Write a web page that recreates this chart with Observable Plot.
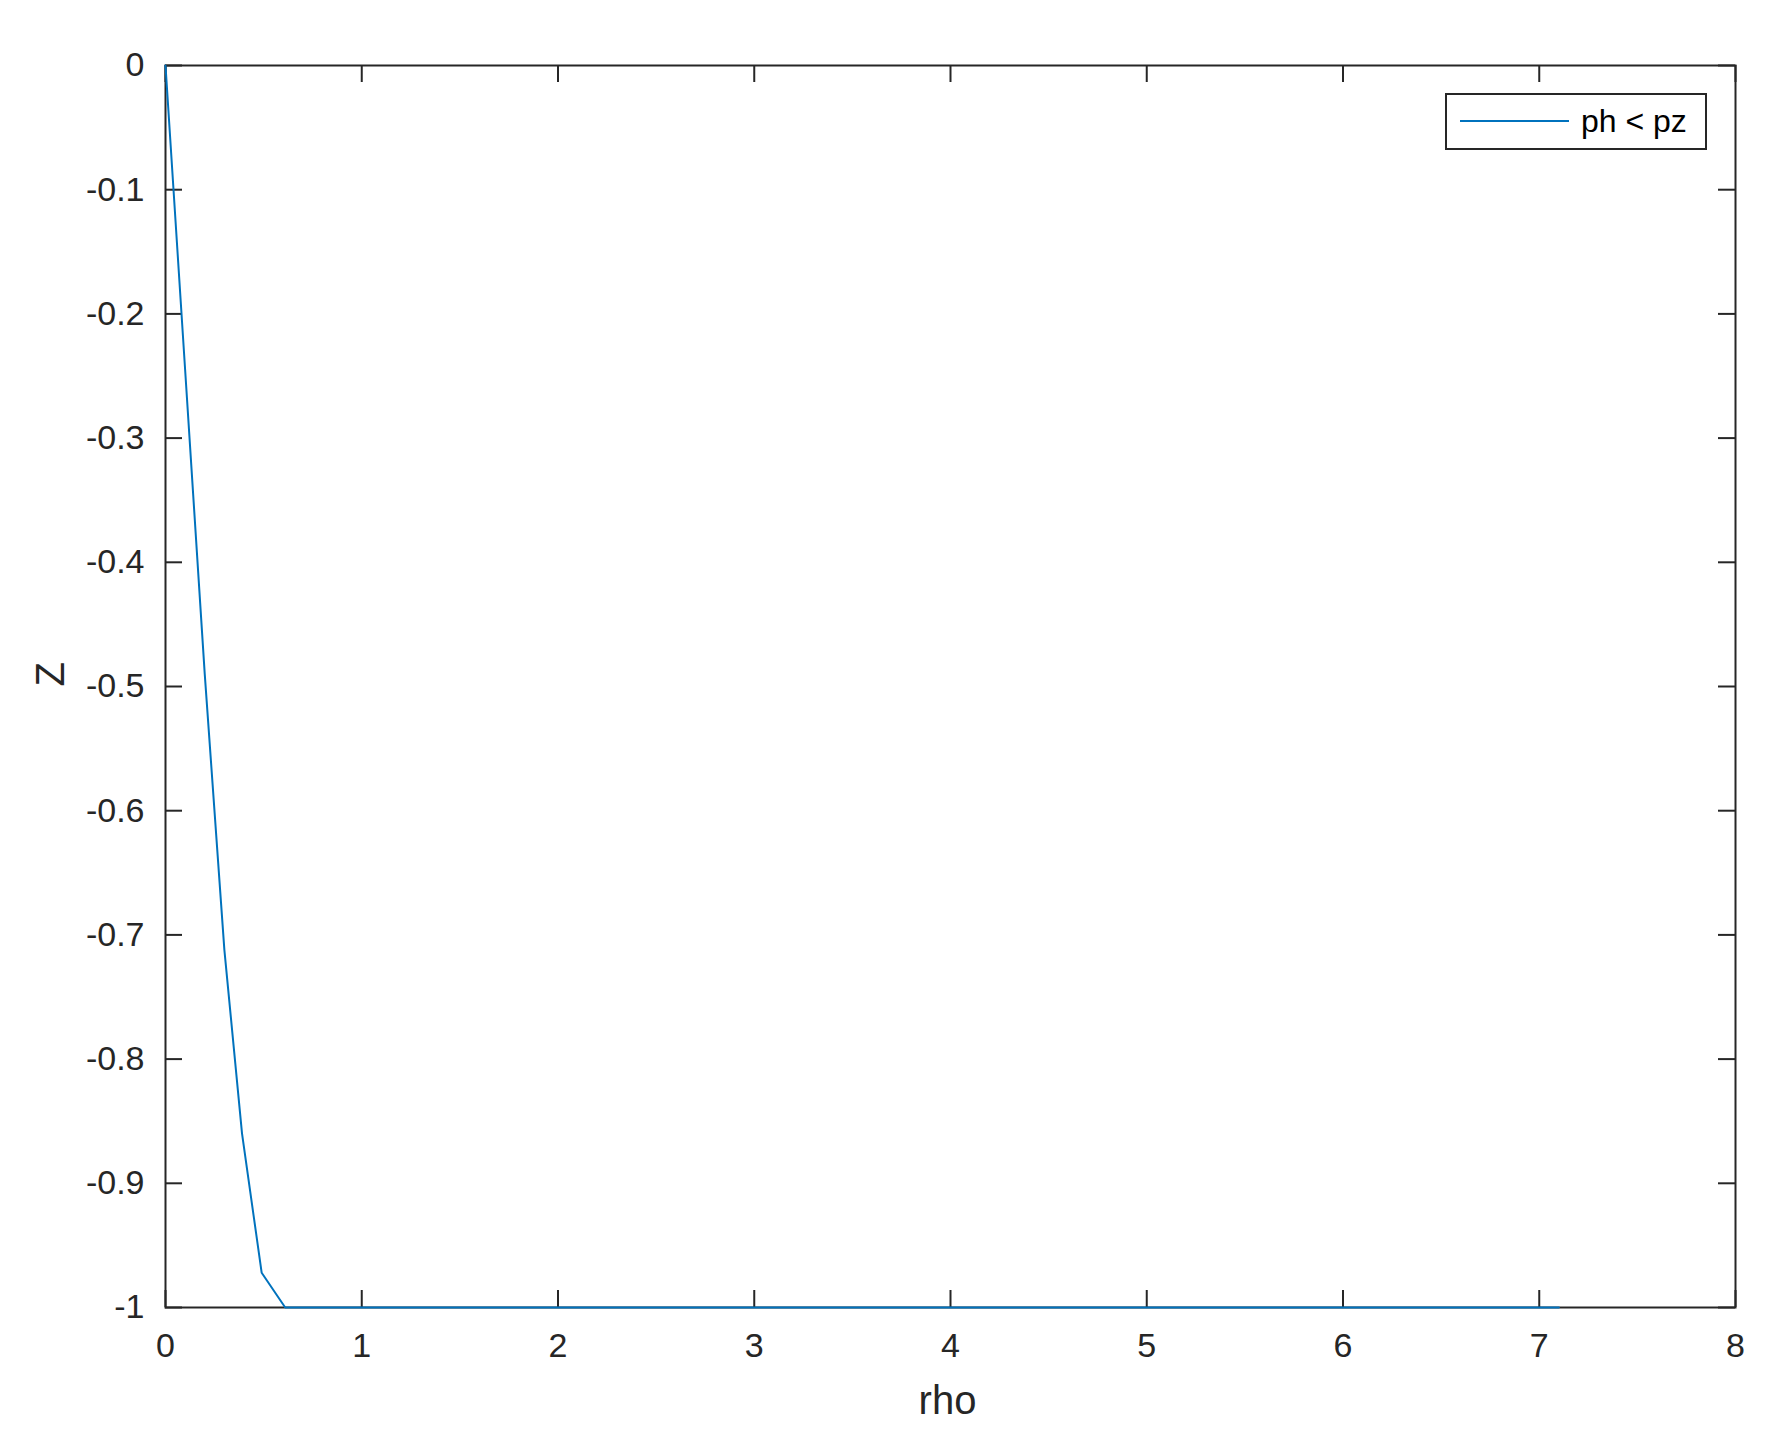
<!DOCTYPE html>
<html>
<head>
<meta charset="utf-8">
<script src="https://cdn.jsdelivr.net/npm/d3@7"></script>
<script src="https://cdn.jsdelivr.net/npm/@observablehq/plot@0.6"></script>
<style>
  html, body { margin: 0; padding: 0; background: #fff; }
  #chart { position: relative; width: 1789px; height: 1441px; }
</style>
</head>
<body>
<div id="chart"></div>
<script>
// ---- data ----
const rho = [0, 0.1, 0.2, 0.3, 0.39, 0.49, 0.61, 7.1];
const zVals = [0, -0.245, -0.49, -0.712, -0.86, -0.972, -1, -1];
const xTicks = [0, 1, 2, 3, 4, 5, 6, 7, 8];
const yTicks = [0, -0.1, -0.2, -0.3, -0.4, -0.5, -0.6, -0.7, -0.8, -0.9, -1];
const yTickLabels = ["0", "-0.1", "-0.2", "-0.3", "-0.4", "-0.5", "-0.6", "-0.7", "-0.8", "-0.9", "-1"];
const seriesName = "ph < pz";
const xLabel = "rho";
const yLabel = "Z";

const W = 1789, H = 1441;
const mL = 165, mR = 54, mT = 65, mB = 134;
const plotW = W - mL - mR, plotH = H - mT - mB;
const tickLen = 17;
const ink = "#262626";
const blue = "#0072BD";
const font = "'Liberation Sans', Arial, Helvetica, sans-serif";

const data = rho.map((r, i) => ({rho: r, z: zVals[i]}));
const yLabelOf = new Map(yTicks.map((t, i) => [t, yTickLabels[i]]));

const chart = Plot.plot({
  width: W,
  height: H,
  marginLeft: mL, marginRight: mR, marginTop: mT, marginBottom: mB,
  style: {fontFamily: font, color: ink, background: "#fff"},
  x: {domain: [0, 8]},
  y: {domain: [-1, 0]},
  marks: [
    Plot.frame({stroke: ink, strokeWidth: 2}),
    // inward ticks on all four sides
    Plot.ruleX(xTicks, {x: d => d, stroke: ink, strokeWidth: 2, insetTop: plotH - tickLen}),
    Plot.ruleX(xTicks, {x: d => d, stroke: ink, strokeWidth: 2, insetBottom: plotH - tickLen}),
    Plot.ruleY(yTicks, {y: d => d, stroke: ink, strokeWidth: 2, insetRight: plotW - tickLen}),
    Plot.ruleY(yTicks, {y: d => d, stroke: ink, strokeWidth: 2, insetLeft: plotW - tickLen}),
    Plot.axisX({ticks: xTicks, tickSize: 0, tickPadding: 25, fontSize: 34, label: null, tickFormat: d => String(d)}),
    Plot.axisY({ticks: yTicks, tickSize: 0, tickPadding: 21, fontSize: 34, label: null, tickFormat: d => yLabelOf.get(d)}),
    Plot.line(data, {x: "rho", y: "z", stroke: blue, strokeWidth: 2}),
    Plot.text([xLabel], {frameAnchor: "bottom", dy: 106, dx: -3, lineAnchor: "bottom", fontSize: 40, fill: ink}),
    Plot.text([yLabel], {frameAnchor: "left", dx: -102, rotate: -90, lineAnchor: "bottom", fontSize: 40, fill: ink})
  ]
});

document.getElementById("chart").appendChild(chart);

// legend box (top-right, inside the axes)
const svg = d3.select(chart);
const lg = svg.append("g").attr("class", "legend");
lg.append("rect")
  .attr("x", 1446).attr("y", 94).attr("width", 260).attr("height", 55)
  .attr("fill", "#fff").attr("stroke", ink).attr("stroke-width", 2);
lg.append("line")
  .attr("x1", 1460).attr("x2", 1569).attr("y1", 121).attr("y2", 121)
  .attr("stroke", blue).attr("stroke-width", 2);
lg.append("text")
  .attr("x", 1581).attr("y", 132)
  .attr("text-anchor", "start")
  .attr("font-family", font).attr("font-size", 32).attr("fill", "#000")
  .text(seriesName);
</script>
</body>
</html>
